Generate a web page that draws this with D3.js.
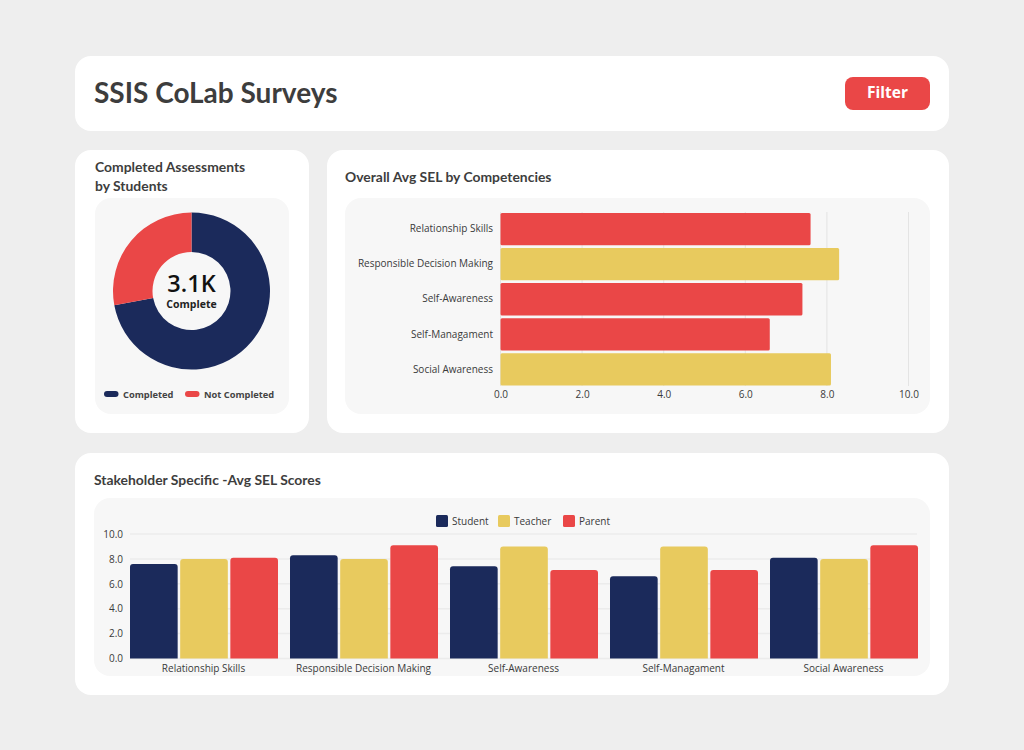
<!DOCTYPE html>
<html>
<head>
<meta charset="utf-8">
<script src="https://cdn.jsdelivr.net/npm/d3@7"></script>
<style>
html,body{margin:0;padding:0;background:#eeeeee;}
svg{display:block;}
text{font-family:"Open Sans",sans-serif;}
.title{font-family:Lato,sans-serif;font-weight:700;fill:#3d3d3d;}
.axis text{font-family:"Open Sans",sans-serif;font-size:10px;fill:#3a3a3a;}
.axis path,.axis line{stroke:none;}
</style>
</head>
<body>
<div id="graph"></div>
<script>
// data
var competencies=["Relationship Skills","Responsible Decision Making","Self-Awareness","Self-Managament","Social Awareness"];
var overallAvg=[7.6,8.3,7.4,6.6,8.1];
var overallColors=["red","yellow","red","red","yellow"];
var stakeholders=["Student","Teacher","Parent"];
var studentScores=[7.6,8.3,7.4,6.6,8.1];
var teacherScores=[8.0,8.0,9.0,9.0,8.0];
var parentScores=[8.1,9.1,7.1,7.1,9.1];
var completionLabels=["Completed","Not Completed"];
var completionValues=[3100,1200];
var scoreTicks=[0,2,4,6,8,10];

var navy="#1b2a5b",yellow="#e8ca5e",red="#ea4747";
var colorOf={red:red,yellow:yellow};

var width=1024,height=750;
var svg=d3.select("#graph").append("svg").attr("width",width).attr("height",height);

function box(x,y,w,h,r,fill){
	svg.append("rect").attr("x",x).attr("y",y).attr("width",w).attr("height",h).attr("rx",r).attr("fill",fill);
}
function title(x,y,size,str){
	svg.append("text").attr("class","title").attr("x",x).attr("y",y).attr("font-size",size).text(str);
}

// cards
box(75,56,874,75,16,"#fff");
box(75,150,234,283,16,"#fff");
box(327,150,622,283,16,"#fff");
box(75,453,874,242,16,"#fff");
box(95,198,194,216,16,"#f7f7f7");
box(345,198,585,216,16,"#f7f7f7");
box(94,498,836,178,16,"#f7f7f7");

// header
title(94,103,28,"SSIS CoLab Surveys");
box(845,77,85,33,8,red);
svg.append("text").attr("x",887.5).attr("y",98).attr("text-anchor","middle")
	.attr("font-family","Lato,sans-serif").attr("font-weight",700).attr("font-size",15.5).attr("fill","#fff").text("Filter");

title(95,172,13.9,"Completed Assessments");
title(95,191,13.9,"by Students");
title(345,182,13.9,"Overall Avg SEL by Competencies");
title(94,485,13.9,"Stakeholder Specific -Avg SEL Scores");

// donut
var donut=svg.append("g").attr("transform","translate(191.5,291)");
var pie=d3.pie().sort(null);
var arc=d3.arc().innerRadius(39).outerRadius(78.5);
donut.selectAll("path").data(pie(completionValues)).enter().append("path")
	.attr("d",arc)
	.attr("fill",function(d,i){return i==0?navy:red});
donut.append("text").attr("text-anchor","middle").attr("y",1).attr("font-size",23.5).attr("font-weight",600)
	.attr("font-family","Lato,sans-serif").attr("fill","#111").text("3.1K");
donut.append("text").attr("text-anchor","middle").attr("y",17).attr("font-size",10.5).attr("font-weight",700)
	.attr("font-family","Lato,sans-serif").attr("fill","#222").text("Complete");

var donutLegendX=[104,185];
completionLabels.forEach(function(lab,i){
	box(donutLegendX[i],391,14.5,6,3,i==0?navy:red);
	svg.append("text").attr("x",donutLegendX[i]+19).attr("y",397.5).attr("font-size",9.3).attr("font-weight",700)
		.attr("font-family","Lato,sans-serif").attr("fill","#444").text(lab);
});

// horizontal bars
var hx=d3.scaleLinear().domain([0,10]).range([500.5,908.5]);
var hy=d3.scaleBand().domain(competencies).range([213,385.5]).paddingInner(0.08).paddingOuter(0);

svg.append("g").selectAll("line").data(scoreTicks).enter().append("line")
	.attr("x1",function(d){return hx(d)}).attr("x2",function(d){return hx(d)})
	.attr("y1",212).attr("y2",386)
	.attr("stroke","#e4e4e4").attr("stroke-width",1);

svg.append("g").selectAll("rect").data(competencies).enter().append("rect")
	.attr("x",hx(0))
	.attr("y",function(d){return hy(d)})
	.attr("width",function(d,i){return hx(overallAvg[i])-hx(0)})
	.attr("height",hy.bandwidth())
	.attr("rx",1.5)
	.attr("fill",function(d,i){return colorOf[overallColors[i]]});

svg.append("g").attr("class","axis").attr("transform","translate(0,385)")
	.call(d3.axisBottom(hx).tickValues(scoreTicks).tickFormat(d3.format(".1f")).tickSize(0).tickPadding(6));
svg.append("g").attr("class","axis").attr("transform","translate(500,0)")
	.call(d3.axisLeft(hy).tickSize(0).tickPadding(7));

// grouped bars
var gx=d3.scaleBand().domain(competencies).range([130,930]).paddingInner(0).paddingOuter(0);
var gi=d3.scaleBand().domain(stakeholders).range([0,148]).paddingInner(0.05);
var gy=d3.scaleLinear().domain([0,10]).range([658.5,534]);
var seriesValues=[studentScores,teacherScores,parentScores];
var seriesColors=[navy,yellow,red];

svg.append("g").selectAll("line").data(scoreTicks).enter().append("line")
	.attr("x1",130).attr("x2",917)
	.attr("y1",function(d){return gy(d)}).attr("y2",function(d){return gy(d)})
	.attr("stroke","#ececec").attr("stroke-width",1.5);

stakeholders.forEach(function(s,k){
	svg.append("g").selectAll("path").data(competencies).enter().append("path")
		.attr("d",function(d,i){
			var x=gx(d)+gi(s),w=gi.bandwidth(),y=gy(seriesValues[k][i]),b=gy(0),r=3;
			var p=d3.path();
			p.moveTo(x,b);
			p.lineTo(x,y+r);
			p.quadraticCurveTo(x,y,x+r,y);
			p.lineTo(x+w-r,y);
			p.quadraticCurveTo(x+w,y,x+w,y+r);
			p.lineTo(x+w,b);
			p.closePath();
			return p.toString();
		})
		.attr("fill",seriesColors[k]);
});

svg.append("g").attr("class","axis").attr("transform","translate(-6.5,658.5)")
	.call(d3.axisBottom(gx).tickSize(0).tickPadding(6));
svg.append("g").attr("class","axis").attr("transform","translate(130,0)")
	.call(d3.axisLeft(gy).tickValues(scoreTicks).tickFormat(d3.format(".1f")).tickSize(0).tickPadding(7));

// legend
var legendX=[436,498,563];
stakeholders.forEach(function(s,k){
	box(legendX[k],515,12,12,1.5,seriesColors[k]);
	svg.append("text").attr("x",legendX[k]+16).attr("y",525).attr("font-size",10).attr("fill","#3a3a3a").text(s);
});
</script>
</body>
</html>
